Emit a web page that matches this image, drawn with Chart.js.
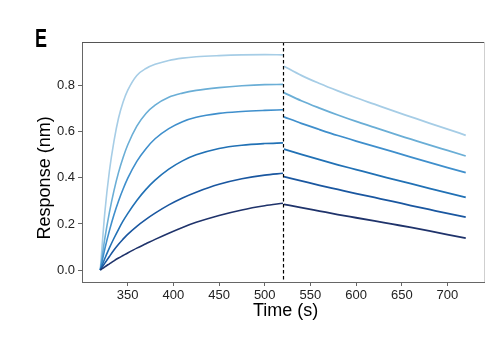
<!DOCTYPE html>
<html>
<head>
<meta charset="utf-8">
<script src="https://cdn.jsdelivr.net/npm/chart.js@4.4.1/dist/chart.umd.min.js"></script>
<style>
  html, body { margin: 0; padding: 0; background: #fff; }
  canvas { display: block; }
</style>
</head>
<body>
<canvas id="chart" width="502" height="342"></canvas>
<script>
// association phase (s) and dissociation phase (s)
const assocTime  = [320, 325, 330, 335, 340, 345, 350, 360, 370, 380, 395, 410, 425, 450, 475, 500, 520];
const dissocTime = [521, 540, 560, 580, 600, 620, 640, 660, 680, 700, 720];

// response (nm), highest concentration first
const assoc1 = [0, 0.25, 0.43, 0.56, 0.66, 0.73, 0.78, 0.845, 0.875, 0.893, 0.91, 0.92, 0.926, 0.931, 0.934, 0.935, 0.934];
const assoc2 = [0, 0.137, 0.25, 0.345, 0.424, 0.489, 0.543, 0.625, 0.68, 0.716, 0.75, 0.768, 0.78, 0.792, 0.80, 0.805, 0.806];
const assoc3 = [0, 0.092, 0.171, 0.24, 0.30, 0.352, 0.398, 0.472, 0.527, 0.57, 0.614, 0.644, 0.663, 0.68, 0.688, 0.693, 0.696];
const assoc4 = [0, 0.05, 0.096, 0.138, 0.177, 0.213, 0.245, 0.302, 0.35, 0.39, 0.438, 0.474, 0.50, 0.528, 0.542, 0.549, 0.552];
const assoc5 = [0, 0.03, 0.059, 0.087, 0.112, 0.134, 0.155, 0.19, 0.22, 0.247, 0.283, 0.313, 0.338, 0.372, 0.396, 0.412, 0.42];
const assoc6 = [0, 0.014, 0.027, 0.04, 0.052, 0.063, 0.074, 0.095, 0.114, 0.133, 0.16, 0.185, 0.207, 0.237, 0.261, 0.279, 0.29];

const dissoc1 = [0.885, 0.845, 0.81, 0.778, 0.748, 0.72, 0.692, 0.665, 0.638, 0.612, 0.585];
const dissoc2 = [0.77, 0.735, 0.703, 0.673, 0.645, 0.619, 0.593, 0.568, 0.543, 0.519, 0.495];
const dissoc3 = [0.665, 0.637, 0.61, 0.584, 0.56, 0.537, 0.514, 0.49, 0.467, 0.445, 0.423];
const dissoc4 = [0.525, 0.502, 0.479, 0.457, 0.436, 0.415, 0.395, 0.375, 0.355, 0.335, 0.315];
const dissoc5 = [0.405, 0.387, 0.368, 0.35, 0.332, 0.315, 0.298, 0.28, 0.263, 0.246, 0.23];
const dissoc6 = [0.285, 0.271, 0.256, 0.241, 0.227, 0.213, 0.199, 0.185, 0.17, 0.154, 0.138];

const lineColors = ['#a6cde6', '#6aaed6', '#3f8fcc', '#2171b5', '#1a57a0', '#1f336b'];

const xTicks = [350, 400, 450, 500, 550, 600, 650, 700];
const yTicks = [0, 0.2, 0.4, 0.6, 0.8];
const switchTime = 520;

const FONT = "'Liberation Sans', Arial, Helvetica, sans-serif";

const assocAll = [assoc1, assoc2, assoc3, assoc4, assoc5, assoc6];
const dissocAll = [dissoc1, dissoc2, dissoc3, dissoc4, dissoc5, dissoc6];

const datasets = [];
assocAll.forEach((vals, i) => {
  datasets.push({
    data: assocTime.map((t, j) => ({ x: t, y: vals[j] })),
    borderColor: lineColors[i],
    borderWidth: 1.6,
    pointRadius: 0,
    cubicInterpolationMode: 'monotone',
    fill: false
  });
  datasets.push({
    data: dissocTime.map((t, j) => ({ x: t, y: dissocAll[i][j] })),
    borderColor: lineColors[i],
    borderWidth: 1.8,
    pointRadius: 0,
    cubicInterpolationMode: 'monotone',
    fill: false
  });
});
// darker curves drawn on top
datasets.reverse();

const decor = {
  id: 'decor',
  afterDatasetsDraw(chart) {
    const { ctx, chartArea: a, scales: { x } } = chart;
    const px = Math.round(x.getPixelForValue(switchTime)) + 0.5;
    ctx.save();
    // dashed switch line
    ctx.strokeStyle = '#000';
    ctx.lineWidth = 1.2;
    ctx.setLineDash([3.5, 2.5]);
    ctx.beginPath();
    ctx.moveTo(px, a.top);
    ctx.lineTo(px, a.bottom);
    ctx.stroke();
    ctx.setLineDash([]);
    // top and right frame
    ctx.lineWidth = 1;
    ctx.strokeStyle = '#555';
    ctx.beginPath();
    ctx.moveTo(a.left, a.top + 0.5);
    ctx.lineTo(a.right, a.top + 0.5);
    ctx.stroke();
    ctx.strokeStyle = '#cfcfcf';
    ctx.beginPath();
    ctx.moveTo(a.right + 0.5, a.top);
    ctx.lineTo(a.right + 0.5, a.bottom);
    ctx.stroke();
    ctx.restore();
  },
  afterDraw(chart) {
    const { ctx, scales: { x, y } } = chart;
    ctx.save();
    ctx.fillStyle = '#000';
    ctx.textAlign = 'center';
    ctx.textBaseline = 'middle';
    ctx.font = '18px ' + FONT;
    ctx.fillText('Time (s)', (x.getPixelForValue(350) + x.getPixelForValue(700)) / 2 - 2, 311);
    ctx.translate(45, (y.getPixelForValue(0) + y.getPixelForValue(0.8)) / 2);
    ctx.rotate(-Math.PI / 2);
    ctx.fillText('Response (nm)', 0, 0);
    ctx.restore();
    // panel letter, condensed
    ctx.save();
    ctx.fillStyle = '#000';
    ctx.textAlign = 'left';
    ctx.textBaseline = 'alphabetic';
    ctx.font = 'bold 25px ' + FONT;
    ctx.translate(35, 47);
    ctx.scale(0.72, 1);
    ctx.fillText('E', 0, 0);
    ctx.restore();
  }
};

new Chart(document.getElementById('chart'), {
  type: 'line',
  data: { datasets },
  options: {
    responsive: false,
    animation: false,
    events: [],
    layout: { padding: { top: 42, right: 18, left: 0, bottom: 0 } },
    plugins: { legend: { display: false }, tooltip: { enabled: false } },
    scales: {
      x: {
        type: 'linear',
        min: 300,
        max: 740,
        afterBuildTicks: s => { s.ticks = xTicks.map(v => ({ value: v })); },
        afterFit: s => { s.height = 60; },
        border: { display: true, color: '#666', width: 1 },
        grid: { display: true, drawOnChartArea: false, drawTicks: true, tickLength: 4, color: '#666' },
        ticks: { color: '#222', font: { family: FONT, size: 13 }, padding: 2, maxRotation: 0 }
      },
      y: {
        type: 'linear',
        min: -0.052,
        max: 0.99,
        afterBuildTicks: s => { s.ticks = yTicks.map(v => ({ value: v })); },
        afterFit: s => { s.width = 82; },
        border: { display: true, color: '#666', width: 1 },
        grid: { display: true, drawOnChartArea: false, drawTicks: true, tickLength: 4, color: '#666' },
        ticks: { color: '#222', font: { family: FONT, size: 13 }, padding: 3, callback: v => v.toFixed(1) }
      }
    }
  },
  plugins: [decor]
});
</script>
</body>
</html>
